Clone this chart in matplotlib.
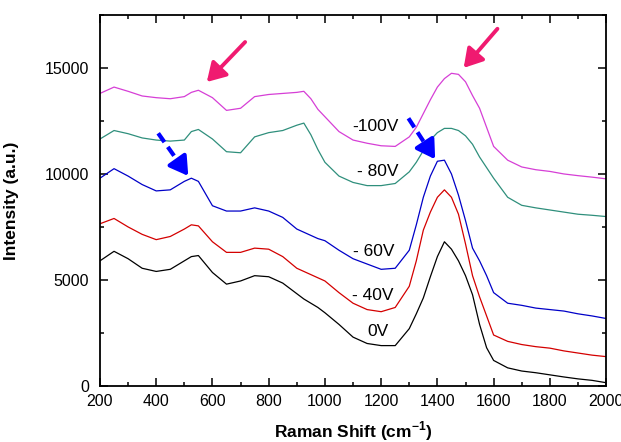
import matplotlib
matplotlib.use("Agg")
import matplotlib.pyplot as plt
from matplotlib.ticker import MultipleLocator

plt.rcParams['font.family'] = ['Liberation Sans', 'DejaVu Sans']

# Raman shift grid (cm^-1)
shift = [200, 250, 300, 350, 400, 450, 500, 525, 550, 600, 650, 700, 750, 800, 850,
         900, 925, 950, 975, 1000, 1050, 1100, 1150, 1200, 1250, 1300, 1325, 1350,
         1375, 1400, 1425, 1450, 1475, 1500, 1525, 1550, 1575, 1600, 1650, 1700,
         1750, 1800, 1850, 1900, 1950, 2000]

# intensities (a.u.)
i_0v = [5900, 6350, 6000, 5550, 5400, 5500, 5900, 6100, 6150, 5350, 4800, 4950, 5200,
        5150, 4850, 4350, 4100, 3900, 3700, 3450, 2900, 2300, 2000, 1900, 1900, 2700,
        3400, 4150, 5150, 6100, 6800, 6450, 5900, 5200, 4300, 2900, 1800, 1200, 850,
        700, 620, 520, 420, 330, 260, 150]
i_40v = [7650, 7900, 7500, 7150, 6900, 7050, 7400, 7600, 7550, 6800, 6300, 6300, 6500,
         6450, 6100, 5550, 5400, 5250, 5100, 4950, 4400, 3900, 3600, 3500, 3700, 4700,
         5900, 7350, 8200, 8900, 9250, 8900, 8100, 6700, 5200, 4200, 3300, 2400, 2100,
         1950, 1850, 1780, 1650, 1550, 1450, 1380]
i_60v = [9800, 10250, 9900, 9500, 9200, 9250, 9650, 9800, 9650, 8500, 8250, 8250, 8400,
         8250, 7950, 7400, 7250, 7100, 6950, 6850, 6400, 6000, 5750, 5500, 5550, 6400,
         7600, 8900, 9900, 10600, 10650, 10000, 9000, 7800, 6500, 5900, 5200, 4400, 3900,
         3800, 3670, 3600, 3530, 3400, 3300, 3180]
i_80v = [11650, 12050, 11900, 11700, 11600, 11550, 11600, 12000, 12100, 11650, 11050,
         11000, 11750, 11950, 12050, 12300, 12400, 11850, 11150, 10550, 9900, 9600, 9450,
         9450, 9550, 10100, 10550, 11100, 11600, 11950, 12150, 12150, 12050, 11800, 11400,
         10800, 10300, 9800, 8900, 8520, 8400, 8300, 8200, 8100, 8050, 7990]
i_100v = [13800, 14100, 13900, 13680, 13600, 13550, 13650, 13850, 13950, 13600, 13000,
          13100, 13650, 13750, 13800, 13850, 13900, 13550, 13050, 12700, 12000, 11600,
          11450, 11330, 11300, 11750, 12200, 12850, 13500, 14100, 14500, 14750, 14700,
          14350, 13700, 13100, 12200, 11300, 10650, 10330, 10200, 10120, 10000, 9920,
          9850, 9770]

labels = ['0V', '- 40V', '- 60V', '- 80V', '-100V']
colors = ['black', '#d40000', '#0000c8', '#2f8f7c', '#d63fd6']
label_pos = [(1188, 2560), (1171, 4250), (1175, 6330), (1189, 10110), (1178, 12230)]

# arrows: (tail, tip)
pink_arrows = [((723, 16320), (573, 14245)), ((1620, 16950), (1487, 14906))]
blue_arrows = [((407, 11920), (514, 9906)), ((1297, 12628), (1392, 10694))]

fig = plt.figure(figsize=(6.21, 4.42), dpi=100)
ax = fig.add_axes([0.161, 0.127, 0.815, 0.839])

for ys, c in zip([i_0v, i_40v, i_60v, i_80v, i_100v], colors):
    ax.plot(shift, ys, color=c, lw=0.9)

for lab, (lx, ly) in zip(labels, label_pos):
    ax.text(lx, ly, lab, ha='center', va='center', fontsize=12.5)

head = '-|>,head_length=0.5,head_width=0.3'
for tail, tip in pink_arrows:
    ax.annotate('', xy=tip, xytext=tail,
                arrowprops=dict(arrowstyle=head, color='#f01a70', lw=2.8, mutation_scale=22))

# dashed shaft + solid head
for tail, tip in blue_arrows:
    mid = (tail[0] + 0.72 * (tip[0] - tail[0]), tail[1] + 0.72 * (tip[1] - tail[1]))
    ax.plot([tail[0], mid[0]], [tail[1], mid[1]], color='#0000ff', lw=3,
            dashes=(2.6, 1.4), solid_capstyle='butt', dash_capstyle='butt')
    ax.annotate('', xy=tip, xytext=mid,
                arrowprops=dict(arrowstyle=head, color='#0000ff', lw=3, mutation_scale=22,
                                shrinkA=0, shrinkB=0))

ax.set_xlim(200, 2000)
ax.set_ylim(0, 17500)
ax.xaxis.set_major_locator(MultipleLocator(200))
ax.xaxis.set_minor_locator(MultipleLocator(100))
ax.yaxis.set_major_locator(MultipleLocator(5000))
ax.yaxis.set_minor_locator(MultipleLocator(2500))
ax.tick_params(which='both', direction='in', top=True, right=True, labelsize=11.5, width=1.1)
ax.tick_params(which='major', length=6)
ax.tick_params(axis='x', pad=6)
ax.tick_params(axis='y', pad=8)
ax.tick_params(which='minor', length=3)
for s in ax.spines.values():
    s.set_linewidth(1.3)

ax.set_xlabel('Raman Shift (cm$^{\\mathregular{-1}}$)', fontsize=12.5, fontweight='bold',
              labelpad=7)
ax.set_ylabel('Intensity (a.u.)', fontsize=12.5, fontweight='bold', labelpad=18)

fig.savefig('out.png', dpi=100)
